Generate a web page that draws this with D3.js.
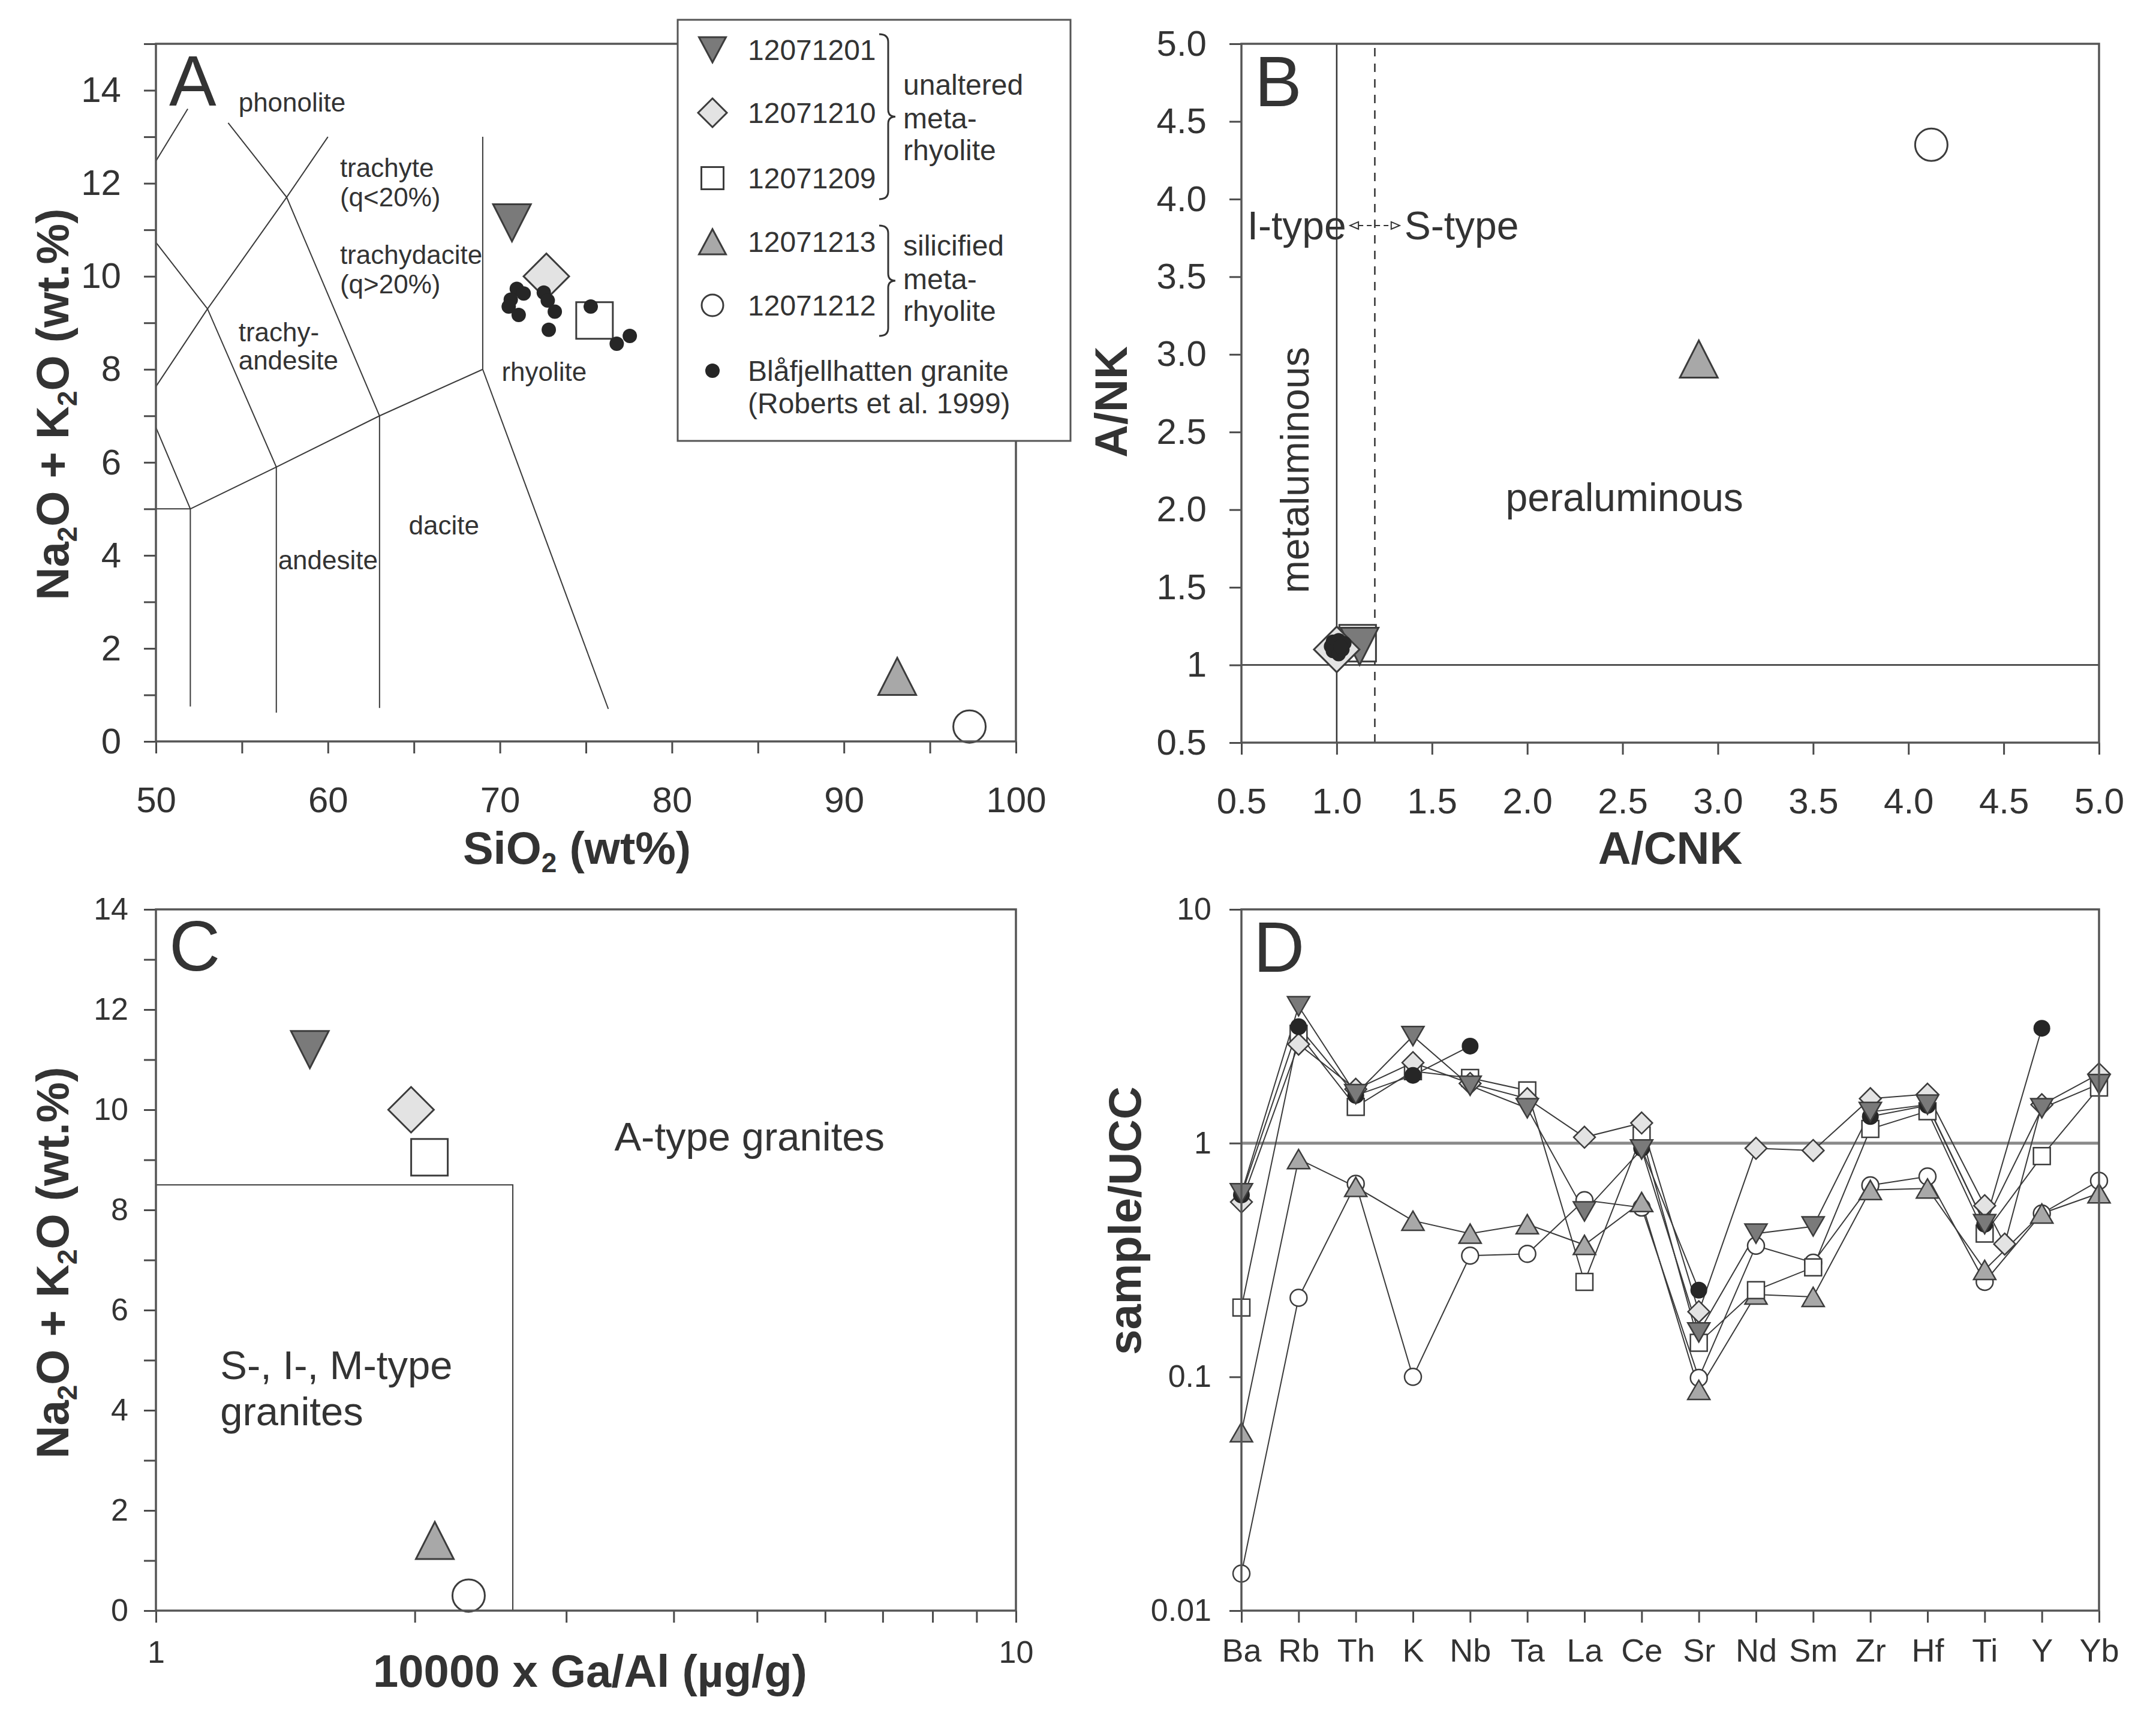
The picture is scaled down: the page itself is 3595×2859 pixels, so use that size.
<!DOCTYPE html>
<html>
<head>
<meta charset="utf-8">
<script src="https://cdnjs.cloudflare.com/ajax/libs/d3/7.8.5/d3.min.js"></script>
<style>
  body { margin: 0; background: #fff; }
  svg { display: block; font-family: "Liberation Sans", Arial, sans-serif; }
</style>
</head>
<body>
<svg id="fig" width="3595" height="2859"></svg>
<script>
// ---- data ----
const samples = ['12071201', '12071210', '12071209', '12071213', '12071212'];
const kinds = ['down', 'diamond', 'square', 'up', 'circle'];

// A: TAS diagram
const sio2 = [70.7, 72.7, 75.5, 93.1, 97.3];
const alkali = [11.15, 10.0, 9.05, 1.4, 0.32];
const blafSio2 = [70.98, 71.38, 70.63, 70.51, 71.09, 72.55, 72.78, 73.19, 72.84, 75.28, 76.79, 77.55];
const blafAlkali = [9.73, 9.63, 9.5, 9.35, 9.17, 9.65, 9.48, 9.24, 8.85, 9.35, 8.55, 8.72];
const tasLines = [
  [[50, 5], [52, 5]],
  [[52, 5], [52, 0.75]],
  [[57, 5.9], [57, 0.62]],
  [[63, 7], [63, 0.72]],
  [[52, 5], [57, 5.9], [63, 7], [69, 8]],
  [[69, 8], [69, 13]],
  [[69, 8], [76.3, 0.7]],
  [[50, 6.75], [52, 5]],
  [[50, 10.73], [53, 9.3], [57, 5.9]],
  [[54.2, 13.3], [57.6, 11.7], [63, 7]],
  [[50, 7.63], [53, 9.3], [57.6, 11.7], [60, 13.0]],
  [[50, 12.48], [51.85, 13.6]]
];
const tasLabels = [
  { t: 'phonolite', x: 54.8, y: 13.74 },
  { t: 'trachyte', x: 60.7, y: 12.33 },
  { t: '(q<20%)', x: 60.7, y: 11.7 },
  { t: 'trachydacite', x: 60.7, y: 10.46 },
  { t: '(q>20%)', x: 60.7, y: 9.83 },
  { t: 'trachy-', x: 54.8, y: 8.8 },
  { t: 'andesite', x: 54.8, y: 8.2 },
  { t: 'rhyolite', x: 70.1, y: 7.95 },
  { t: 'dacite', x: 64.7, y: 4.65 },
  { t: 'andesite', x: 57.1, y: 3.9 }
];

// B: A/CNK vs A/NK
const acnk = [1.12, 1.0, 1.11, 2.9, 4.12];
const ank = [1.12, 1.1, 1.14, 2.97, 4.35];
const blafAcnk = [0.98, 1.01, 0.97, 0.98, 1.01, 1.03, 1.04, 1.02];
const blafAnk = [1.15, 1.16, 1.12, 1.09, 1.07, 1.1, 1.14, 1.12];

// C: Ga/Al vs alkali
const gaAl = [1.51, 1.98, 2.08, 2.11, 2.31];
const alkaliC = [11.2, 10.0, 9.05, 1.4, 0.3];

// D: UCC-normalised spider diagram
const elements = ['Ba', 'Rb', 'Th', 'K', 'Nb', 'Ta', 'La', 'Ce', 'Sr', 'Nd', 'Sm', 'Zr', 'Hf', 'Ti', 'Y', 'Yb'];
const ucc12071201 = [0.61, 3.85, 1.62, 2.87, 1.76, 1.41, 0.51, 0.94, 0.155, 0.41, 0.44, 1.36, 1.46, 0.45, 1.41, 1.79];
const ucc12071210 = [0.56, 2.65, 1.70, 2.21, 1.80, 1.55, 1.06, 1.22, 0.19, 0.95, 0.93, 1.55, 1.62, 0.54, 1.46, 1.98];
const ucc12071209 = [0.198, 2.94, 1.43, 2.03, 1.90, 1.68, 0.255, 1.08, 0.14, 0.235, 0.294, 1.15, 1.37, 0.41, 0.88, 1.73];
const ucc12071213 = [0.058, 0.855, 0.65, 0.466, 0.41, 0.45, 0.367, 0.56, 0.088, 0.225, 0.22, 0.63, 0.64, 0.287, 0.50, 0.61];
const ucc12071212 = [0.0144, 0.218, 0.67, 0.10, 0.33, 0.336, 0.57, 0.53, 0.099, 0.364, 0.308, 0.66, 0.72, 0.255, 0.50, 0.69];
const uccBlaf = [0.6, 3.15, 1.6, 1.95, 2.6, null, null, 0.95, 0.235, null, null, 1.3, 1.45, 0.45, 3.1, null];
// stray 12071210 point plotted between Ti and Y (category index, value)
const ucc12071210Stray = [13.35, 0.37];

// ---- drawing ----
const svg = d3.select('#fig');
const ink = '#333';
const axisInk = '#4a4a4a';
const font = '"Liberation Sans", Arial, sans-serif';

const styles = {
  down: { fill: '#7a7a7a', stroke: '#3c3c3c' },
  diamond: { fill: '#e3e3e3', stroke: '#3c3c3c' },
  square: { fill: '#fff', stroke: '#3c3c3c' },
  up: { fill: '#a8a8a8', stroke: '#3c3c3c' },
  circle: { fill: '#fff', stroke: '#3c3c3c' },
  dot: { fill: '#262626', stroke: 'none' }
};

function markerPath(kind, w, h) {
  const a = w / 2, b = h / 2;
  if (kind === 'down') return `M${-a},${-b}L${a},${-b}L0,${b}Z`;
  if (kind === 'up') return `M${-a},${b}L${a},${b}L0,${-b}Z`;
  if (kind === 'diamond') return `M0,${-b}L${a},0L0,${b}L${-a},0Z`;
  return `M${-a},${-b}H${a}V${b}H${-a}Z`;
}

const bigSize = { tri: [63, 62], diamond: 76, square: 61, r: 27, dot: 12, sw: 3 };
const smallSize = { tri: [37, 32], diamond: 36, square: 28, r: 14, dot: 14, sw: 2.5 };
const legendSize = { tri: [45, 42], diamond: 48, square: 37, r: 18, dot: 12, sw: 3 };

function drawMarker(g, kind, x, y, sz) {
  const st = styles[kind];
  if (kind === 'circle' || kind === 'dot') {
    g.append('circle').attr('cx', x).attr('cy', y)
      .attr('r', kind === 'dot' ? sz.dot : sz.r)
      .attr('fill', st.fill).attr('stroke', st.stroke).attr('stroke-width', sz.sw);
    return;
  }
  let w, h;
  if (kind === 'down' || kind === 'up') { w = sz.tri[0]; h = sz.tri[1]; }
  else if (kind === 'diamond') { w = h = sz.diamond; }
  else { w = h = sz.square; }
  g.append('path').attr('d', markerPath(kind, w, h))
    .attr('transform', `translate(${x},${y})`)
    .attr('fill', st.fill).attr('stroke', st.stroke).attr('stroke-width', sz.sw);
}

function styleAxis(g, fs) {
  g.attr('font-family', font);
  g.select('.domain').remove();
  g.selectAll('.tick line').attr('stroke', axisInk).attr('stroke-width', 3);
  g.selectAll('.tick text').attr('fill', ink).attr('font-size', fs);
}

function frame(x0, x1, y0, y1) {
  svg.append('rect').attr('x', x0).attr('y', y1).attr('width', x1 - x0).attr('height', y0 - y1)
    .attr('fill', 'none').attr('stroke', '#555').attr('stroke-width', 3.5);
}

function label(g, txt, x, y, fs, anchor) {
  return g.append('text').attr('x', x).attr('y', y).attr('dy', '0.35em')
    .attr('font-size', fs).attr('fill', ink).attr('text-anchor', anchor || 'start').text(txt);
}

function panelLetter(txt, x, y) {
  svg.append('text').attr('x', x).attr('y', y).attr('font-size', 118)
    .attr('fill', ink).text(txt);
}

function alkaliTitle(cx, cy) {
  const t = svg.append('text').attr('transform', `translate(${cx},${cy}) rotate(-90)`)
    .attr('text-anchor', 'middle').attr('font-size', 76).attr('font-weight', 'bold').attr('fill', ink);
  t.append('tspan').text('Na');
  t.append('tspan').attr('font-size', 46).attr('dy', 14).text('2');
  t.append('tspan').attr('dy', -14).text('O + K');
  t.append('tspan').attr('font-size', 46).attr('dy', 14).text('2');
  t.append('tspan').attr('dy', -14).text('O (wt.%)');
}

// stacking order of the sample markers
const drawOrder = [2, 0, 1, 3, 4];

// ===== Panel A =====
const xA = d3.scaleLinear().domain([50, 100]).range([260, 1694]);
const yA = d3.scaleLinear().domain([0, 15]).range([1236, 73]);
const gA = svg.append('g');

svg.append('g').attr('transform', `translate(0,${yA(0)})`)
  .call(d3.axisBottom(xA).tickValues(d3.range(50, 101, 5)).tickSize(20).tickSizeOuter(0).tickPadding(55)
    .tickFormat(d => (d % 10 === 0 ? d : '')))
  .call(g => styleAxis(g, 60));
svg.append('g').attr('transform', `translate(${xA(50)},0)`)
  .call(d3.axisLeft(yA).tickValues(d3.range(0, 16, 1)).tickSize(20).tickSizeOuter(0).tickPadding(38)
    .tickFormat(d => (d % 2 === 0 && d < 15 ? d : '')))
  .call(g => styleAxis(g, 60));
frame(xA(50), xA(100), yA(0), yA(15));

const lineA = d3.line().x(d => xA(d[0])).y(d => yA(d[1]));
gA.selectAll('path.tas').data(tasLines).enter().append('path')
  .attr('d', lineA).attr('fill', 'none').attr('stroke', '#3a3a3a').attr('stroke-width', 2);
tasLabels.forEach(l => label(gA, l.t, xA(l.x), yA(l.y), 44));

drawOrder.forEach(i => drawMarker(gA, kinds[i], xA(sio2[i]), yA(alkali[i]), bigSize));
blafSio2.forEach((s, i) => drawMarker(gA, 'dot', xA(s), yA(blafAlkali[i]), bigSize));
panelLetter('A', 282, 176);

alkaliTitle(114, 674);
const tA = svg.append('text').attr('x', 962).attr('y', 1440).attr('text-anchor', 'middle')
  .attr('font-size', 76).attr('font-weight', 'bold').attr('fill', ink);
tA.append('tspan').text('SiO');
tA.append('tspan').attr('font-size', 46).attr('dy', 14).text('2');
tA.append('tspan').attr('dy', -14).text(' (wt%)');

// legend
const lg = svg.append('g');
lg.append('rect').attr('x', 1130).attr('y', 33).attr('width', 655).attr('height', 702)
  .attr('fill', '#fff').attr('stroke', '#555').attr('stroke-width', 3);
const legendRows = [83, 188, 297, 403, 509];
samples.forEach((s, i) => {
  drawMarker(lg, kinds[i], 1188, legendRows[i], legendSize);
  label(lg, s, 1247, legendRows[i], 48);
});
drawMarker(lg, 'dot', 1188, 618, legendSize);
label(lg, 'Blåfjellhatten granite', 1247, 618, 48);
label(lg, '(Roberts et al. 1999)', 1247, 672, 48);
function brace(y0, y1) {
  const m = (y0 + y1) / 2;
  lg.append('path')
    .attr('d', `M1466,${y0} Q1481,${y0} 1481,${y0 + 13} V${m - 12} Q1481,${m} 1493,${m} Q1481,${m} 1481,${m + 12} V${y1 - 13} Q1481,${y1} 1466,${y1}`)
    .attr('fill', 'none').attr('stroke', ink).attr('stroke-width', 3);
}
brace(57, 332);
brace(376, 560);
['unaltered', 'meta-', 'rhyolite'].forEach((t, i) => label(lg, t, 1506, [141, 197, 250][i], 48));
['silicified', 'meta-', 'rhyolite'].forEach((t, i) => label(lg, t, 1506, [409, 465, 518][i], 48));

// ===== Panel B =====
const xB = d3.scaleLinear().domain([0.5, 5]).range([2070, 3500]);
const yB = d3.scaleLinear().domain([0.5, 5]).range([1238, 73]);
const gB = svg.append('g');
const bTicks = d3.range(0.5, 5.01, 0.5);
svg.append('g').attr('transform', `translate(0,${yB(0.5)})`)
  .call(d3.axisBottom(xB).tickValues(bTicks).tickSize(20).tickSizeOuter(0).tickPadding(55)
    .tickFormat(d3.format('.1f')))
  .call(g => styleAxis(g, 60));
svg.append('g').attr('transform', `translate(${xB(0.5)},0)`)
  .call(d3.axisLeft(yB).tickValues(bTicks).tickSize(20).tickSizeOuter(0).tickPadding(38)
    .tickFormat(d => (d === 1 ? '1' : d3.format('.1f')(d))))
  .call(g => styleAxis(g, 60));
frame(xB(0.5), xB(5), yB(0.5), yB(5));

gB.append('line').attr('x1', xB(1)).attr('x2', xB(1)).attr('y1', yB(0.5)).attr('y2', yB(5))
  .attr('stroke', ink).attr('stroke-width', 2.5);
gB.append('line').attr('x1', xB(1.2)).attr('x2', xB(1.2)).attr('y1', yB(0.5)).attr('y2', yB(5))
  .attr('stroke', ink).attr('stroke-width', 2.5).attr('stroke-dasharray', '14,12');
gB.append('line').attr('x1', xB(0.5)).attr('x2', xB(5)).attr('y1', yB(1)).attr('y2', yB(1))
  .attr('stroke', ink).attr('stroke-width', 2.5);

const arrowY = yB(3.83);
label(gB, 'I-type', xB(1.05), arrowY, 66, 'end');
label(gB, 'S-type', xB(1.355), arrowY, 66, 'start');
const ax0 = xB(1.07), ax1 = xB(1.33);
gB.append('line').attr('x1', ax0).attr('x2', ax1).attr('y1', arrowY).attr('y2', arrowY)
  .attr('stroke', ink).attr('stroke-width', 2).attr('stroke-dasharray', '8,6');
gB.append('path').attr('d', `M${ax0 + 14},${arrowY - 6}L${ax0},${arrowY}L${ax0 + 14},${arrowY + 6}Z`)
  .attr('fill', '#fff').attr('stroke', ink).attr('stroke-width', 2);
gB.append('path').attr('d', `M${ax1 - 14},${arrowY - 6}L${ax1},${arrowY}L${ax1 - 14},${arrowY + 6}Z`)
  .attr('fill', '#fff').attr('stroke', ink).attr('stroke-width', 2);

gB.append('text').attr('transform', `translate(${xB(0.78)},${yB(2.255)}) rotate(-90)`)
  .attr('dy', '0.35em').attr('text-anchor', 'middle').attr('font-size', 66).attr('fill', ink)
  .text('metaluminous');
label(gB, 'peraluminous', xB(2.51), yB(2.08), 66, 'middle');

drawOrder.forEach(i => drawMarker(gB, kinds[i], xB(acnk[i]), yB(ank[i]), bigSize));
blafAcnk.forEach((a, i) => drawMarker(gB, 'dot', xB(a), yB(blafAnk[i]), bigSize));
panelLetter('B', 2092, 177);

svg.append('text').attr('transform', `translate(1879,670) rotate(-90)`).attr('text-anchor', 'middle')
  .attr('font-size', 76).attr('font-weight', 'bold').attr('fill', ink).text('A/NK');
svg.append('text').attr('x', 2785).attr('y', 1440).attr('text-anchor', 'middle')
  .attr('font-size', 76).attr('font-weight', 'bold').attr('fill', ink).text('A/CNK');

// ===== Panel C =====
const xC = d3.scaleLog().domain([1, 10]).range([260, 1694]);
const yC = d3.scaleLinear().domain([0, 14]).range([2685, 1516]);
const gC = svg.append('g');
svg.append('g').attr('transform', `translate(0,${yC(0)})`)
  .call(d3.axisBottom(xC).tickValues(d3.range(1, 11)).tickSize(20).tickSizeOuter(0).tickPadding(30)
    .tickFormat(d => (d === 1 || d === 10 ? d : '')))
  .call(g => styleAxis(g, 52));
svg.append('g').attr('transform', `translate(${xC(1)},0)`)
  .call(d3.axisLeft(yC).tickValues(d3.range(0, 15)).tickSize(20).tickSizeOuter(0).tickPadding(26)
    .tickFormat(d => (d % 2 === 0 ? d : '')))
  .call(g => styleAxis(g, 52));
frame(xC(1), xC(10), yC(0), yC(14));

gC.append('path')
  .attr('d', `M${xC(1)},${yC(8.5)}H${xC(2.6)}V${yC(0)}`)
  .attr('fill', 'none').attr('stroke', '#3a3a3a').attr('stroke-width', 2);
label(gC, 'A-type granites', xC(4.9), yC(9.47), 67, 'middle');
label(gC, 'S-, I-, M-type', xC(1.188), yC(4.9), 67);
label(gC, 'granites', xC(1.188), yC(3.98), 67);

drawOrder.forEach(i => drawMarker(gC, kinds[i], xC(gaAl[i]), yC(alkaliC[i]), bigSize));
panelLetter('C', 282, 1618);

alkaliTitle(114, 2105);
svg.append('text').attr('x', 984).attr('y', 2812).attr('text-anchor', 'middle')
  .attr('font-size', 76).attr('font-weight', 'bold').attr('fill', ink).text('10000 x Ga/Al (µg/g)');

// ===== Panel D =====
const xD = d3.scalePoint().domain(elements).range([2070, 3500]);
const xIdx = d3.scaleLinear().domain([0, elements.length - 1]).range(xD.range());
const yD = d3.scaleLog().domain([0.01, 10]).range([2685, 1516]);
const gD = svg.append('g');
svg.append('g').attr('transform', `translate(0,${yD(0.01)})`)
  .call(d3.axisBottom(xD).tickSize(20).tickSizeOuter(0).tickPadding(27))
  .call(g => styleAxis(g, 54));
svg.append('g').attr('transform', `translate(${xD('Ba')},0)`)
  .call(d3.axisLeft(yD).tickValues([0.01, 0.1, 1, 10]).tickSize(20).tickSizeOuter(0).tickPadding(30)
    .tickFormat(d => d))
  .call(g => styleAxis(g, 52));
frame(2070, 3500, yD(0.01), yD(10));

gD.append('line').attr('x1', 2070).attr('x2', 3500).attr('y1', yD(1)).attr('y2', yD(1))
  .attr('stroke', '#8a8a8a').attr('stroke-width', 5);

const spider = [
  { kind: 'circle', v: ucc12071212 },
  { kind: 'up', v: ucc12071213 },
  { kind: 'square', v: ucc12071209 },
  { kind: 'diamond', v: ucc12071210, stray: ucc12071210Stray },
  { kind: 'dot', v: uccBlaf },
  { kind: 'down', v: ucc12071201 }
];
const lineD = d3.line().defined(d => d.v != null).x(d => xIdx(d.i)).y(d => yD(d.v));
spider.forEach(s => {
  const pts = s.v.map((v, i) => ({ i, v }));
  if (s.stray) pts.splice(Math.ceil(s.stray[0]), 0, { i: s.stray[0], v: s.stray[1] });
  s.pts = pts;
  gD.append('path').attr('d', lineD(pts)).attr('fill', 'none')
    .attr('stroke', '#3a3a3a').attr('stroke-width', 2);
});
spider.forEach(s => {
  s.pts.forEach(p => {
    if (p.v != null) drawMarker(gD, s.kind, xIdx(p.i), yD(p.v), smallSize);
  });
});
panelLetter('D', 2090, 1620);

svg.append('text').attr('transform', `translate(1902,2035) rotate(-90)`).attr('text-anchor', 'middle')
  .attr('font-size', 76).attr('font-weight', 'bold').attr('fill', ink).text('sample/UCC');
</script>
</body>
</html>
